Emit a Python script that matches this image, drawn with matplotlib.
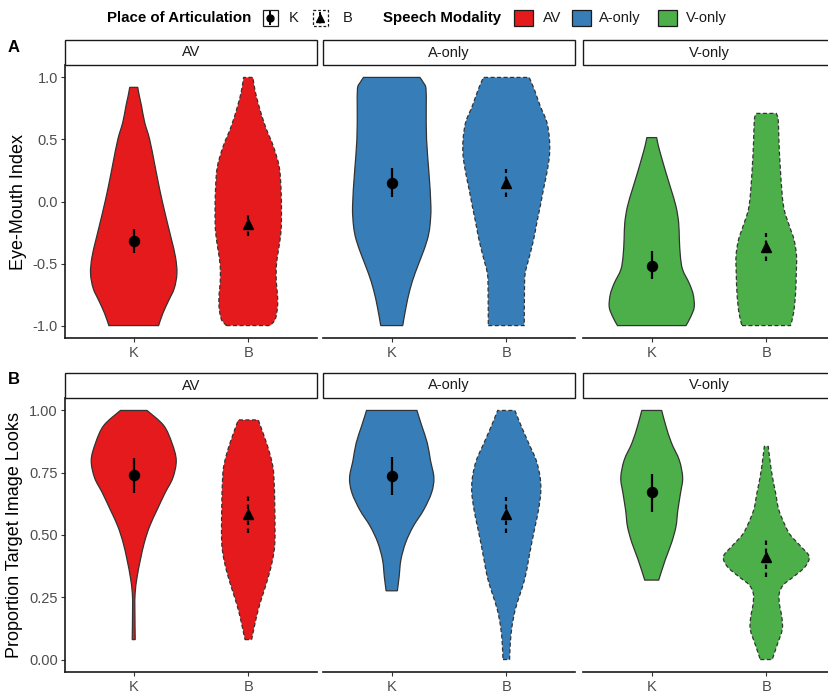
import matplotlib
matplotlib.use("Agg")
import matplotlib.pyplot as plt
from matplotlib.path import Path
from matplotlib.patches import PathPatch, Rectangle
import numpy as np

plt.rcParams['font.family'] = ['Liberation Sans', 'DejaVu Sans']

# ---------------------------------------------------------------- data
modalities = ["AV", "A-only", "V-only"]
places = ["K", "B"]
fills = ["#E41A1C", "#377EB8", "#4DAF4A"]

# violin outlines: (value, half-width in category units), bottom to top
# Eye-Mouth Index
em_av_k = [(-1.00, 0.217), (-0.90, 0.255), (-0.80, 0.304), (-0.70, 0.354), (-0.58, 0.377),
           (-0.45, 0.365), (-0.30, 0.328), (-0.10, 0.275), (0.10, 0.226), (0.30, 0.183),
           (0.50, 0.139), (0.64, 0.095), (0.77, 0.068), (0.85, 0.049), (0.92, 0.035)]
em_av_b = [(-1.00, 0.190), (-0.95, 0.235), (-0.85, 0.255), (-0.75, 0.255), (-0.65, 0.245),
           (-0.52, 0.245), (-0.40, 0.262), (-0.25, 0.285), (-0.10, 0.290), (0.10, 0.286),
           (0.28, 0.270), (0.45, 0.217), (0.60, 0.151), (0.77, 0.093), (0.90, 0.058), (1.00, 0.041)]
em_ao_k = [(-1.00, 0.096), (-0.85, 0.125), (-0.71, 0.159), (-0.58, 0.203), (-0.44, 0.261),
           (-0.31, 0.310), (-0.20, 0.333), (-0.04, 0.342), (0.23, 0.325), (0.50, 0.304),
           (0.75, 0.301), (0.91, 0.299), (0.96, 0.275), (1.00, 0.246)]
em_ao_b = [(-1.00, 0.157), (-0.71, 0.159), (-0.58, 0.165), (-0.44, 0.203), (-0.31, 0.238),
           (-0.17, 0.267), (-0.04, 0.296), (0.10, 0.325), (0.23, 0.354), (0.37, 0.377),
           (0.50, 0.377), (0.64, 0.354), (0.77, 0.296), (0.90, 0.246), (1.00, 0.200)]
em_vo_k = [(-1.00, 0.299), (-0.93, 0.340), (-0.85, 0.371), (-0.75, 0.362), (-0.66, 0.328),
           (-0.55, 0.270), (-0.44, 0.250), (-0.30, 0.241), (-0.17, 0.235), (-0.04, 0.212),
           (0.10, 0.168), (0.23, 0.125), (0.37, 0.081), (0.46, 0.055), (0.515, 0.043)]
em_vo_b = [(-1.00, 0.212), (-0.90, 0.238), (-0.75, 0.255), (-0.58, 0.262), (-0.44, 0.264),
           (-0.31, 0.243), (-0.20, 0.203), (-0.04, 0.151), (0.23, 0.125), (0.50, 0.110),
           (0.66, 0.104), (0.71, 0.087)]

# Proportion Target Image Looks
pt_av_k = [(0.08, 0.013), (0.20, 0.010), (0.265, 0.012), (0.33, 0.029), (0.40, 0.058),
           (0.47, 0.093), (0.535, 0.139), (0.60, 0.203), (0.67, 0.275), (0.73, 0.342),
           (0.80, 0.371), (0.87, 0.333), (0.94, 0.261), (1.00, 0.116)]
pt_av_b = [(0.08, 0.029), (0.13, 0.052), (0.20, 0.087), (0.265, 0.130), (0.33, 0.174),
           (0.40, 0.212), (0.47, 0.232), (0.60, 0.232), (0.74, 0.223), (0.80, 0.203),
           (0.87, 0.159), (0.962, 0.087)]
pt_ao_k = [(0.276, 0.049), (0.33, 0.064), (0.40, 0.080), (0.47, 0.122), (0.535, 0.188),
           (0.60, 0.278), (0.67, 0.348), (0.73, 0.368), (0.80, 0.338), (0.87, 0.310),
           (0.94, 0.261), (1.00, 0.220)]
pt_ao_b = [(0.00, 0.029), (0.063, 0.035), (0.13, 0.049), (0.20, 0.078), (0.265, 0.122),
           (0.33, 0.165), (0.40, 0.194), (0.47, 0.223), (0.535, 0.252), (0.60, 0.281),
           (0.67, 0.301), (0.73, 0.296), (0.80, 0.261), (0.87, 0.194), (0.94, 0.128), (1.00, 0.075)]
pt_vo_k = [(0.319, 0.061), (0.40, 0.118), (0.47, 0.174), (0.535, 0.212), (0.60, 0.228),
           (0.67, 0.252), (0.73, 0.270), (0.80, 0.241), (0.87, 0.172), (0.94, 0.122), (1.00, 0.087)]
pt_vo_b = [(0.00, 0.052), (0.06, 0.096), (0.12, 0.139), (0.17, 0.136), (0.22, 0.116),
           (0.265, 0.113), (0.30, 0.150), (0.333, 0.240), (0.373, 0.340), (0.414, 0.374),
           (0.455, 0.300), (0.50, 0.210), (0.535, 0.168), (0.60, 0.110), (0.67, 0.081),
           (0.737, 0.052), (0.80, 0.032), (0.856, 0.017)]

# means with 95% CI, ordered AV, A-only, V-only
em_mean_k = [-0.315, 0.150, -0.517]
em_lo_k = [-0.415, 0.040, -0.625]
em_hi_k = [-0.220, 0.270, -0.400]
em_mean_b = [-0.178, 0.148, -0.365]
em_lo_b = [-0.280, 0.040, -0.480]
em_hi_b = [-0.090, 0.260, -0.250]

pt_mean_k = [0.740, 0.737, 0.672]
pt_lo_k = [0.670, 0.660, 0.594]
pt_hi_k = [0.810, 0.815, 0.744]
pt_mean_b = [0.585, 0.585, 0.412]
pt_lo_b = [0.510, 0.508, 0.333]
pt_hi_b = [0.656, 0.654, 0.480]

em_ticks = [-1.0, -0.5, 0.0, 0.5, 1.0]
em_ticklabels = ["-1.0", "-0.5", "0.0", "0.5", "1.0"]
pt_ticks = [0.0, 0.25, 0.5, 0.75, 1.0]
pt_ticklabels = ["0.00", "0.25", "0.50", "0.75", "1.00"]

# ---------------------------------------------------------------- layout
W, H = 829, 693
fig = plt.figure(figsize=(W / 100, H / 100), dpi=100)

EDGE = "#333333"
TICKGREY = "#4D4D4D"
DASH = (0, (3.2, 2.0))


def smooth(points):
    """Cubic Bezier segments (Catmull-Rom style) through the outline points."""
    pts = np.asarray(points, dtype=float)
    n = len(pts)
    verts, codes = [], []
    for i in range(n - 1):
        p_prev = pts[max(i - 1, 0)]
        p0, p1 = pts[i], pts[i + 1]
        p_next = pts[min(i + 2, n - 1)]
        c1 = p0 + (p1 - p_prev) / 6.0
        c2 = p1 - (p_next - p0) / 6.0
        verts += [tuple(c1), tuple(c2), tuple(p1)]
        codes += [Path.CURVE4] * 3
    return verts, codes


def violin_path(x0, profile):
    ys = np.array([p[0] for p in profile])
    ws = np.array([p[1] for p in profile])
    right = np.column_stack([x0 + ws, ys])
    left = np.column_stack([x0 - ws, ys])[::-1]
    verts = [tuple(left[-1]), tuple(right[0])]
    codes = [Path.MOVETO, Path.LINETO]
    v, c = smooth(right)
    verts += v
    codes += c
    verts.append(tuple(left[0]))
    codes.append(Path.LINETO)
    v, c = smooth(left)
    verts += v
    codes += c
    verts.append(verts[0])
    codes.append(Path.CLOSEPOLY)
    return Path(verts, codes)


rows = [
    dict(profiles=[(em_av_k, em_av_b), (em_ao_k, em_ao_b), (em_vo_k, em_vo_b)],
         mean_k=em_mean_k, lo_k=em_lo_k, hi_k=em_hi_k,
         mean_b=em_mean_b, lo_b=em_lo_b, hi_b=em_hi_b,
         ylim=(-1.1, 1.1), ticks=em_ticks, ticklabels=em_ticklabels,
         ylabel="Eye-Mouth Index", strip_top=40, top=65, bottom=338),
    dict(profiles=[(pt_av_k, pt_av_b), (pt_ao_k, pt_ao_b), (pt_vo_k, pt_vo_b)],
         mean_k=pt_mean_k, lo_k=pt_lo_k, hi_k=pt_hi_k,
         mean_b=pt_mean_b, lo_b=pt_lo_b, hi_b=pt_hi_b,
         ylim=(-0.05, 1.05), ticks=pt_ticks, ticklabels=pt_ticklabels,
         ylabel="Proportion Target Image Looks", strip_top=373, top=398, bottom=672),
]

lefts = [65, 323, 583]
pw = 252

for r, row in enumerate(rows):
    ph = row["bottom"] - row["top"]
    strip_h = row["top"] - row["strip_top"]
    for c, mod in enumerate(modalities):
        ax = fig.add_axes([lefts[c] / W, 1 - row["bottom"] / H, pw / W, ph / H])
        ax.set_xlim(0.4, 2.6)
        ax.set_ylim(*row["ylim"])
        prof_k, prof_b = row["profiles"][c]
        ax.add_patch(PathPatch(violin_path(1, prof_k), facecolor=fills[c],
                               edgecolor=EDGE, lw=0.9, zorder=2))
        ax.add_patch(PathPatch(violin_path(2, prof_b), facecolor=fills[c],
                               edgecolor=EDGE, lw=0.9, linestyle=DASH, zorder=2))
        # means and confidence intervals
        ax.vlines(1, row["lo_k"][c], row["hi_k"][c], color="black", lw=1.6, zorder=3)
        ax.plot([1], [row["mean_k"][c]], marker="o", ms=7.2, color="black", zorder=4)
        ax.vlines(2, row["lo_b"][c], row["hi_b"][c], color="black", lw=1.6,
                  linestyle=(0, (2.0, 1.6)), zorder=3)
        ax.plot([2], [row["mean_b"][c]], marker="^", ms=7.6, color="black", zorder=4)

        for s in ["top", "right"]:
            ax.spines[s].set_visible(False)
        ax.spines["bottom"].set_linewidth(1.2)
        ax.spines["bottom"].set_color("#1a1a1a")
        ax.set_xticks([1, 2])
        ax.set_xticklabels(places)
        ax.tick_params(axis="x", length=3.2, width=0.8, color=EDGE, labelsize=10.5,
                       labelcolor=TICKGREY, pad=2.5)
        if c == 0:
            ax.spines["left"].set_linewidth(1.2)
            ax.spines["left"].set_color("#1a1a1a")
            ax.set_yticks(row["ticks"])
            ax.set_yticklabels(row["ticklabels"])
            ax.tick_params(axis="y", length=3.2, width=0.8, color=EDGE, labelsize=10.5,
                           labelcolor=TICKGREY, pad=2)
            ax.set_ylabel(row["ylabel"], fontsize=13, color="black", labelpad=4)
        else:
            ax.spines["left"].set_visible(False)
            ax.set_yticks([])

        # facet strip
        sh = strip_h / ph
        ax.add_patch(Rectangle((0, 1), 1, sh, transform=ax.transAxes, clip_on=False,
                               facecolor="white", edgecolor="#1a1a1a", lw=1.0, zorder=5))
        ax.text(0.5, 1 + sh / 2, mod, transform=ax.transAxes, ha="center", va="center",
                fontsize=10.5, color="#1a1a1a", zorder=6)

# panel tags
fig.text(8 / W, 1 - 47 / H, "A", fontsize=12, fontweight="bold", va="center", ha="left")
fig.text(8 / W, 1 - 380 / H, "B", fontsize=12, fontweight="bold", va="center", ha="left")

# ---------------------------------------------------------------- legend
lg = fig.add_axes([0, 0, 1, 1], zorder=10)
lg.set_xlim(0, W)
lg.set_ylim(H, 0)
lg.axis("off")
lg.patch.set_alpha(0)

ly = 18
lg.text(107, ly, "Place of Articulation", fontsize=10.8, fontweight="bold",
        va="center", ha="left")
# K key
lg.add_patch(Rectangle((263, ly - 8), 15, 16, facecolor="white", edgecolor="#1a1a1a", lw=0.9))
lg.plot([270.5, 270.5], [ly - 6, ly + 6], color="black", lw=1.4)
lg.plot([270.5], [ly], marker="o", ms=5, color="black")
lg.text(289, ly, "K", fontsize=10.5, va="center", ha="left", color="#1a1a1a")
# B key
lg.add_patch(Rectangle((313, ly - 8), 15, 16, facecolor="white", edgecolor="#1a1a1a",
                       lw=0.9, linestyle=(0, (2.2, 1.6))))
lg.plot([320.5, 320.5], [ly - 6, ly + 6], color="black", lw=1.4, linestyle=(0, (1.6, 1.4)))
lg.plot([320.5], [ly], marker="^", ms=5.5, color="black")
lg.text(343, ly, "B", fontsize=10.5, va="center", ha="left", color="#1a1a1a")

lg.text(383, ly, "Speech Modality", fontsize=10.8, fontweight="bold", va="center", ha="left")
key_x = [514, 572, 658]
lab_x = [543, 599, 686]
for kx, tx, col, mod in zip(key_x, lab_x, fills, modalities):
    lg.add_patch(Rectangle((kx, ly - 8), 19, 16, facecolor=col, edgecolor="#1a1a1a", lw=0.9))
    lg.text(tx, ly, mod, fontsize=10.5, va="center", ha="left", color="#1a1a1a")

fig.savefig("out.png", dpi=100, facecolor="white")
